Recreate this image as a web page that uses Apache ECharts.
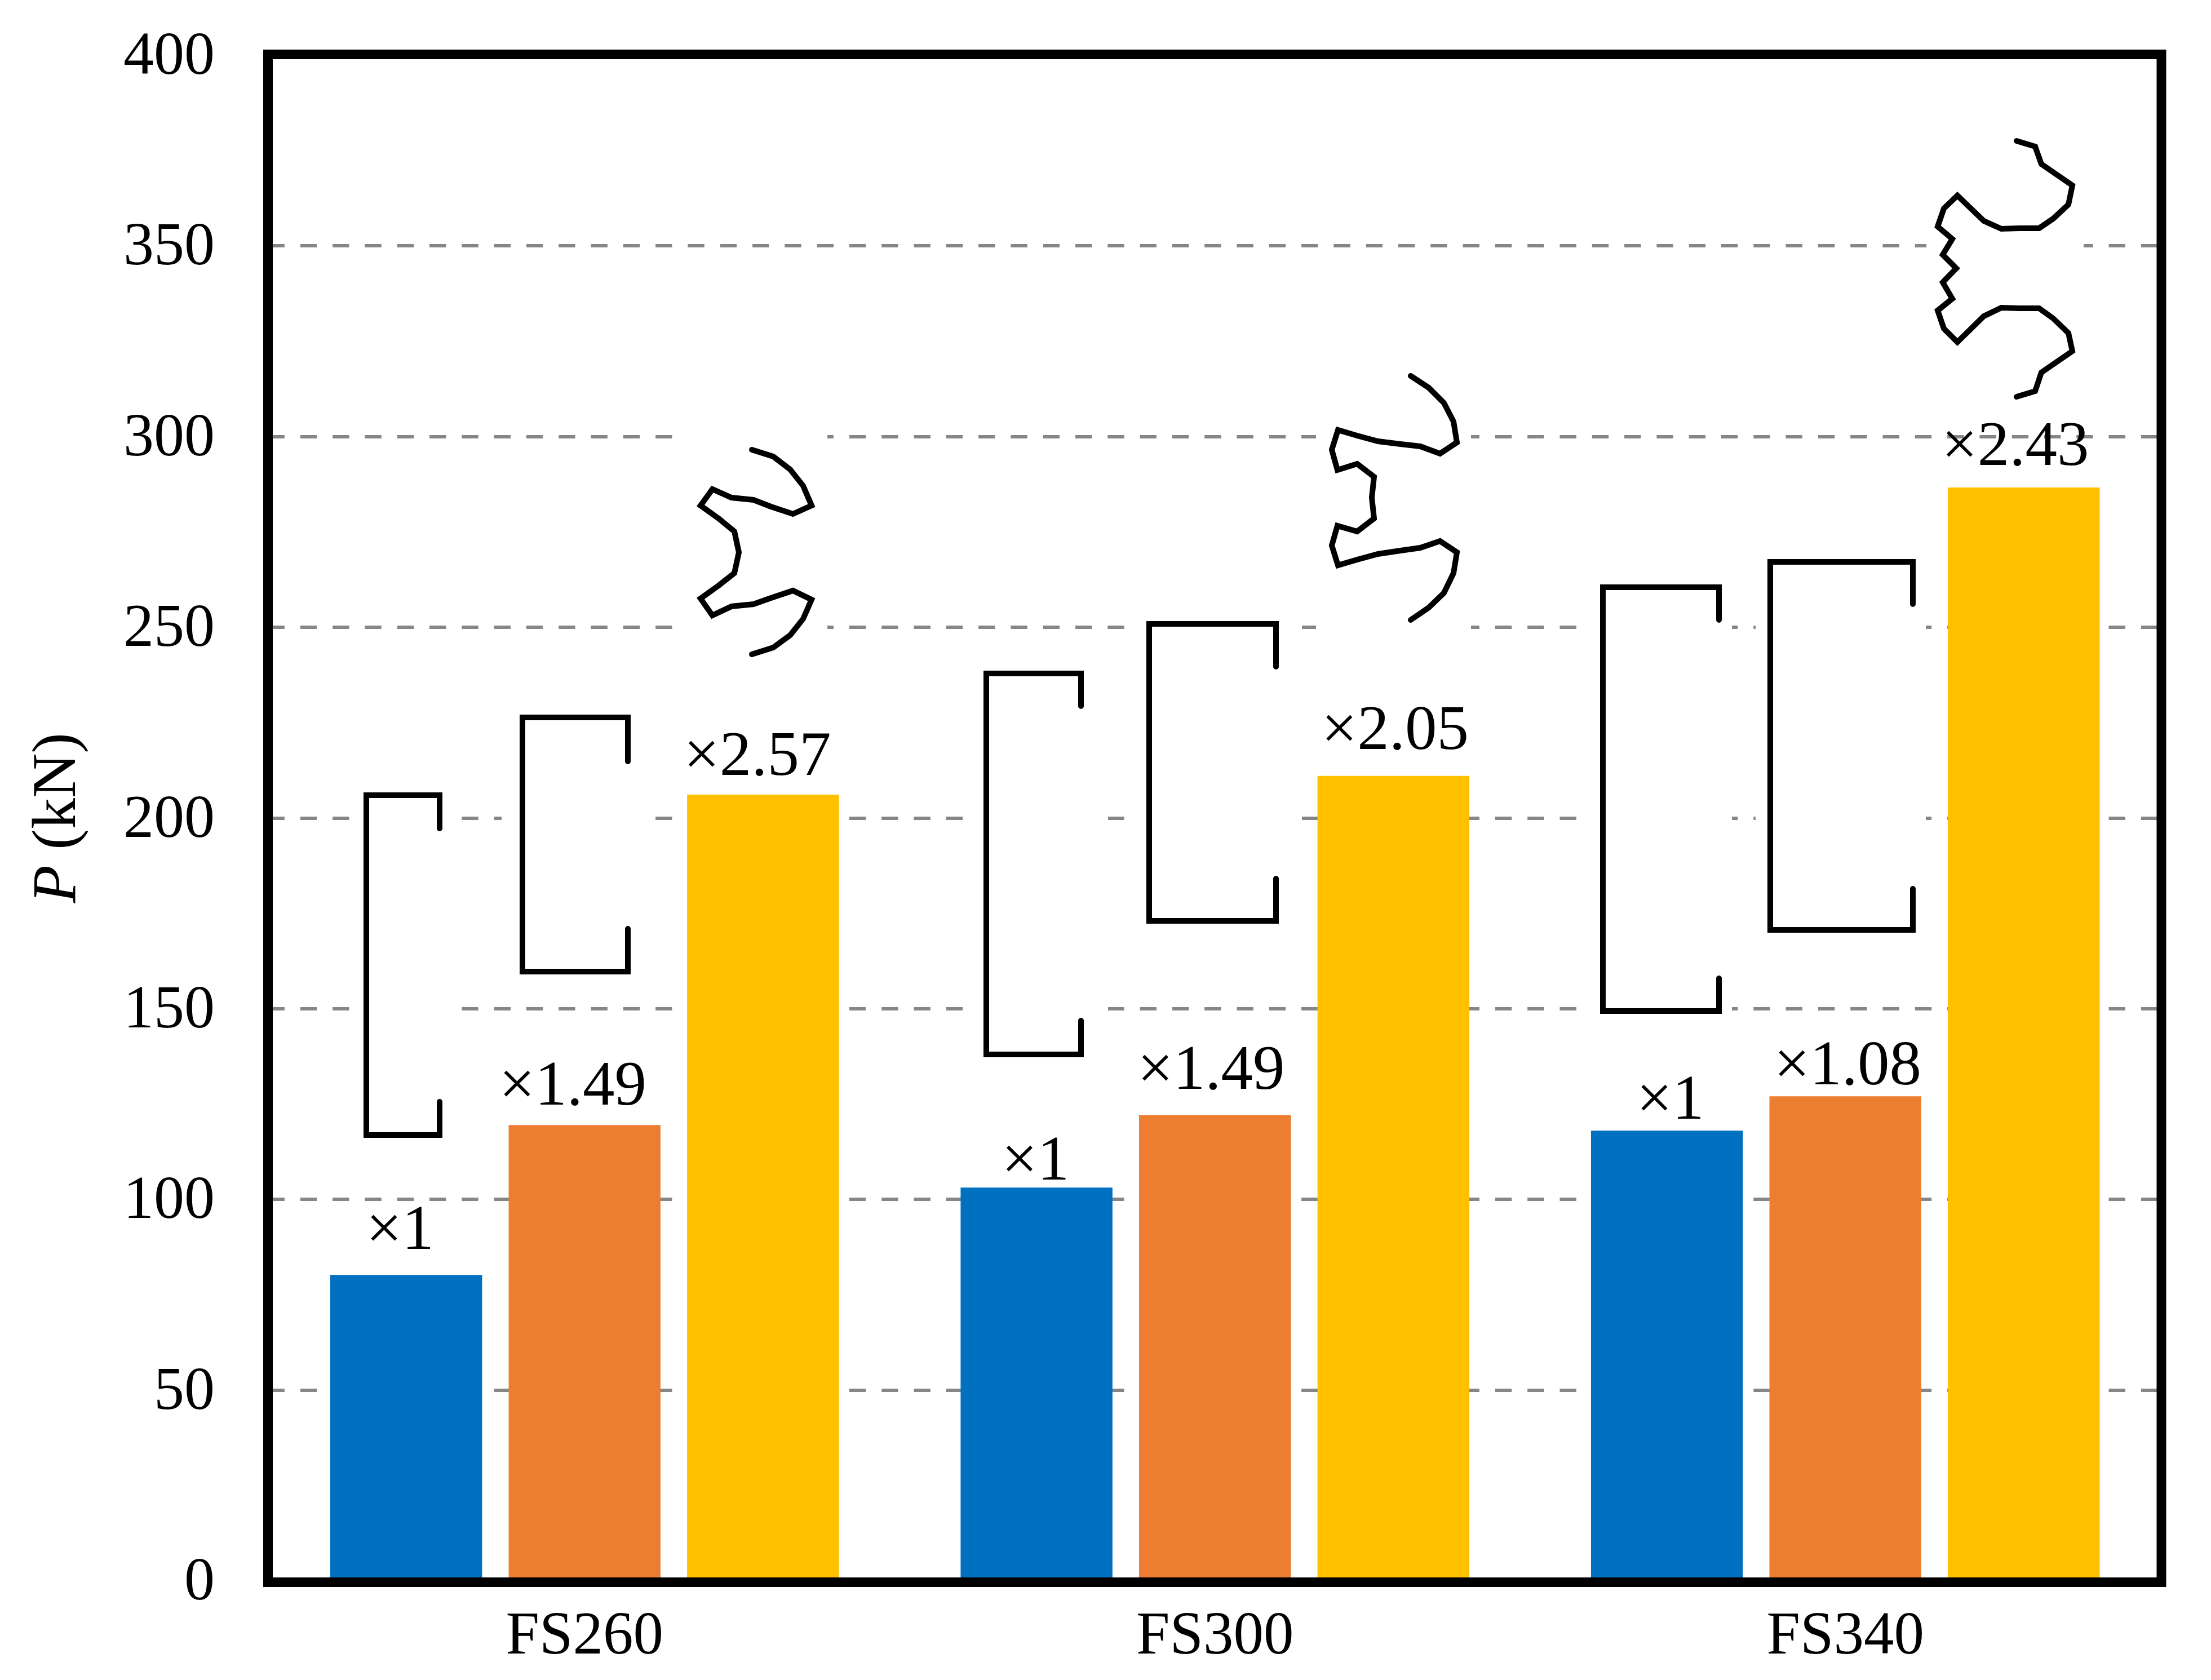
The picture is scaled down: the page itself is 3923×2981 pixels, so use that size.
<!DOCTYPE html>
<html>
<head>
<meta charset="utf-8">
<title>FS260 FS300 FS340</title>
<style>
    html, body { margin: 0; padding: 0; background: #fff; }
    #chart { width: 3923px; height: 2981px; }
</style>
</head>
<body>
<div id="chart"></div>
<script src="https://cdn.jsdelivr.net/npm/echarts@6/dist/echarts.min.js"></script>
<script>
    // values
    var categories = ['FS260', 'FS300', 'FS340'];
    var yTicks = ['0', '50', '100', '150', '200', '250', '300', '350', '400'];
    var series1 = [80.2, 103.1, 118.0];
    var series2 = [119.5, 122.1, 127.0];
    var series3 = [206.1, 211.0, 286.6];
    var labels1 = ['×1', '×1', '×1'];
    var labels2 = ['×1.49', '×1.49', '×1.08'];
    var labels3 = ['×2.57', '×2.05', '×2.43'];

    // label placement, each one sits by hand in the original: [dx, height of baseline above bar]
    var nudge1 = [[-11, 44], [-2, 12], [6, 19]];
    var nudge2 = [[-21, 34], [-7, 45], [4, 20]];
    var nudge3 = [[-10, 33], [3, 46], [-15, 38]];
    var BASE = 25;

    var SERIF = '"Liberation Serif", "Times New Roman", serif';
    var FONT = 108;

    // white backing of the pasted section sketches, they cut the grid lines: x0, y0, x1, y1
    var masks = [
        [620, 1400, 819, 2020], [890, 1260, 1163, 1740], [1193, 760, 1468, 1130],
        [1709, 1180, 1966, 1885], [1995, 1095, 2310, 1650], [2335, 760, 2610, 1130],
        [2798, 1030, 3073, 1800], [3115, 985, 3417, 1660], [3418, 230, 3697, 720]
    ];

    // undeformed sections: left, right, top, bottom, lip end top, lip end bottom
    var channels = [
        [650, 780, 1411, 2014, 1470, 1955],
        [927, 1114, 1273, 1724, 1351, 1648],
        [1750, 1918, 1195, 1871, 1253, 1811],
        [2039, 2264, 1107, 1634, 1183, 1559],
        [2844, 3050, 1042, 1794, 1100, 1736],
        [3141, 3394, 997, 1650, 1072, 1577]
    ];

    // buckled sections
    var buckled = [
        [[1334,798],[1372,810],[1402,833],[1425,862],[1440,897],[1407,912],[1368,899],[1337,887],[1298,883],
         [1264,868],[1243,897],[1275,920],[1303,943],[1311,980],[1303,1017],[1275,1039],[1243,1062],[1264,1092],
         [1298,1076],[1337,1072],[1368,1061],[1407,1048],[1440,1064],[1425,1098],[1402,1127],[1372,1149],[1334,1161]],
        [[2503,667],[2535,688],[2562,715],[2579,748],[2585,785],[2555,805],[2520,792],[2485,788],[2445,783],
         [2408,773],[2374,763],[2363,798],[2373,834],[2408,823],[2438,846],[2434,883],[2438,920],[2408,943],
         [2373,933],[2363,968],[2374,1003],[2408,993],[2445,983],[2485,977],[2520,972],[2555,960],[2585,980],
         [2579,1017],[2562,1052],[2535,1078],[2503,1100]],
        [[3578,250],[3611,260],[3622,291],[3677,329],[3670,363],[3643,388],[3618,405],[3583,405],[3551,406],
         [3520,392],[3473,347],[3449,370],[3438,402],[3464,424],[3447,452],[3471,476],[3447,501],[3464,530],
         [3438,551],[3449,583],[3473,607],[3520,561],[3551,546],[3583,547],[3618,547],[3643,565],[3670,591],
         [3677,623],[3622,661],[3611,694],[3578,704]]
    ];

    function barData(values, texts, nudge) {
        return values.map(function (v, i) {
            return {
                value: v,
                label: {
                    formatter: texts[i],
                    offset: [nudge[i][0], BASE - nudge[i][1]]
                }
            };
        });
    }

    function barSeries(name, values, texts, nudge, color) {
        return {
            name: name,
            type: 'bar',
            barGap: '17.5%',
            barCategoryGap: '19.3%',
            itemStyle: { color: color },
            label: {
                show: true,
                position: 'top',
                distance: 0,
                color: '#000',
                fontFamily: SERIF,
                fontSize: 113
            },
            data: barData(values, texts, nudge)
        };
    }

    function sketchLine(points) {
        return {
            type: 'polyline',
            silent: true,
            z: 5,
            shape: { points: points },
            style: { stroke: '#000', fill: null, lineWidth: 10, lineCap: 'round', lineJoin: 'miter' }
        };
    }

    var elements = [];
    masks.forEach(function (m) {
        elements.push({
            type: 'rect',
            silent: true,
            z: 1,
            shape: { x: m[0], y: m[1], width: m[2] - m[0], height: m[3] - m[1] },
            style: { fill: '#fff' }
        });
    });
    channels.forEach(function (c) {
        elements.push(sketchLine([[c[1], c[4]], [c[1], c[2]], [c[0], c[2]], [c[0], c[3]], [c[1], c[3]], [c[1], c[5]]]));
    });
    buckled.forEach(function (b) {
        elements.push(sketchLine(b));
    });
    // plot frame
    elements.push({
        type: 'rect',
        silent: true,
        z: 10,
        shape: { x: 475.5, y: 96.5, width: 3359.5, height: 2711 },
        style: { fill: null, stroke: '#000', lineWidth: 17 }
    });

    var chart = echarts.init(document.getElementById('chart'));
    chart.setOption({
        animation: false,
        backgroundColor: '#fff',
        grid: { left: 478, top: 97.5, width: 3355.5, height: 2707.5, outerBoundsMode: 'none' },
        xAxis: {
            type: 'category',
            data: categories,
            axisLine: { show: false },
            axisTick: { show: false },
            axisLabel: { color: '#000', fontFamily: SERIF, fontSize: 107, margin: 47 }
        },
        yAxis: {
            type: 'value',
            min: 0,
            max: 400,
            interval: 50,
            name: '{i|P} (kN)',
            nameLocation: 'middle',
            nameGap: 319,
            nameTextStyle: {
                color: '#000',
                fontFamily: SERIF,
                fontSize: 110,
                rich: { i: { fontStyle: 'italic', fontFamily: SERIF, fontSize: 110, color: '#000' } }
            },
            axisLine: { show: false },
            axisTick: { show: false },
            axisLabel: {
                color: '#000',
                fontFamily: SERIF,
                fontSize: FONT,
                margin: 97,
                formatter: function (v) { return '{n|' + yTicks[v / 50] + '}'; },
                rich: { n: { color: '#000', fontFamily: SERIF, fontSize: FONT, padding: [10, 0, 0, 0] } }
            },
            splitLine: {
                show: true,
                lineStyle: { color: '#868686', width: 6, type: [29.4, 27.9], dashOffset: 2.5 }
            }
        },
        series: [
            barSeries('s1', series1, labels1, nudge1, '#0070C0'),
            barSeries('s2', series2, labels2, nudge2, '#ED7D31'),
            barSeries('s3', series3, labels3, nudge3, '#FFC000')
        ],
        graphic: { elements: elements }
    });
</script>
</body>
</html>
